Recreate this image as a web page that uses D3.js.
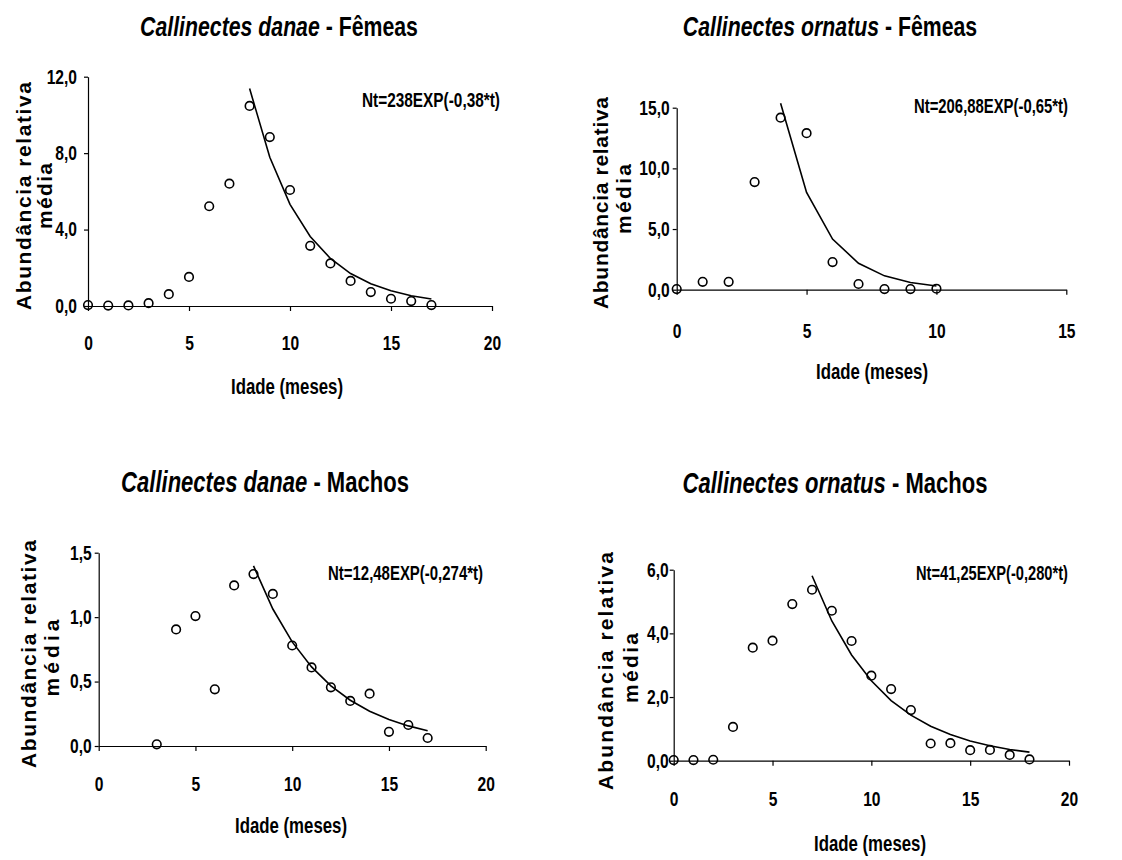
<!DOCTYPE html>
<html>
<head>
<meta charset="utf-8">
<script src="https://cdn.jsdelivr.net/npm/d3@7"></script>
<style>
  body { margin: 0; background: #fff; }
  text { font-family: "Liberation Sans", Arial, sans-serif; font-weight: bold; fill: #000; }
</style>
</head>
<body>
<script>
//tamanho da página
const width = 1122;
const height = 860;

// C. danae fêmeas
const danaeF_idade = [0,1,2,3,4,5,6,7,8,9,10,11,12,13,14,15,16,17];
const danaeF_abund = [0.05,0.02,0.03,0.15,0.62,1.52,5.22,6.4,10.47,8.84,6.07,3.15,2.23,1.31,0.73,0.38,0.26,0.05];
const danaeF_fitIdade = [8,9,10,11,12,13,14,15,16,17];
const danaeF_fit = [11.38,7.78,5.32,3.64,2.49,1.70,1.16,0.80,0.54,0.37];

// C. ornatus fêmeas
const ornatusF_idade = [0,1,2,3,4,5,6,7,8,9,10];
const ornatusF_abund = [0.05,0.65,0.65,8.87,14.18,12.9,2.28,0.47,0.05,0.05,0.08];
const ornatusF_fitIdade = [4,5,6,7,8,9,10];
const ornatusF_fit = [15.37,8.02,4.17,2.18,1.14,0.59,0.31];

// C. danae machos
const danaeM_idade = [3,4,5,6,7,8,9,10,11,12,13,14,15,16,17];
const danaeM_abund = [0.013,0.905,1.008,0.44,1.246,1.334,1.18,0.78,0.61,0.455,0.35,0.406,0.11,0.163,0.062];
const danaeM_fitIdade = [8,9,10,11,12,13,14,15,16,17];
const danaeM_fit = [1.398,1.063,0.808,0.614,0.467,0.355,0.270,0.205,0.156,0.119];

// C. ornatus machos
const ornatusM_idade = [0,1,2,3,4,5,6,7,8,9,10,11,12,13,14,15,16,17,18];
const ornatusM_abund = [0.02,0.02,0.03,1.06,3.55,3.77,4.92,5.37,4.71,3.76,2.67,2.25,1.59,0.54,0.55,0.33,0.34,0.18,0.04];
const ornatusM_fitIdade = [7,8,9,10,11,12,13,14,15,16,17,18];
const ornatusM_fit = [5.81,4.39,3.32,2.51,1.89,1.43,1.08,0.82,0.62,0.47,0.35,0.27];

// eixos
const xTicks20 = [0,5,10,15,20];
const xTicks15 = [0,5,10,15];
const danaeF_yTicks = [0,4,8,12];
const ornatusF_yTicks = [0,5,10,15];
const danaeM_yTicks = [0,0.5,1,1.5];
const ornatusM_yTicks = [0,2,4,6];

const species = ["Callinectes danae", "Callinectes ornatus", "Callinectes danae", "Callinectes ornatus"];
const sexo = [" - Fêmeas", " - Fêmeas", " - Machos", " - Machos"];
const equacoes = ["Nt=238EXP(-0,38*t)", "Nt=206,88EXP(-0,65*t)", "Nt=12,48EXP(-0,274*t)", "Nt=41,25EXP(-0,280*t)"];

const svg = d3.select("body").append("svg")
              .attr("width", width).attr("height", height);

const fmt = d => d3.format(".1f")(d).replace(".", ",");

// fonte estreita (tipo Arial Narrow): comprime os glifos
function squeeze(sel, k) {
    sel.each(function() {
        const len = this.getComputedTextLength();
        d3.select(this).attr("textLength", len * k).attr("lengthAdjust", "spacingAndGlyphs");
    });
}
function fit_to(sel, w) {
    sel.attr("textLength", w).attr("lengthAdjust", "spacingAndGlyphs");
}

function draw_panel(p) {
    const x = d3.scaleLinear().domain(p.xdom).range([p.left, p.right]);
    const y = d3.scaleLinear().domain(p.ydom).range([p.bottom, p.top]);
    const g = svg.append("g");

    // titulo: comprimido na horizontal com scale
    const t = g.append("g").attr("transform", `translate(${p.tx},${p.ty}) scale(0.76,1)`)
               .append("text").attr("text-anchor", "middle").attr("font-size", p.tsize)
               .style("white-space", "pre");
    t.append("tspan").attr("font-style", "italic").text(p.species);
    t.append("tspan").text(p.sexo);

    // eixo y
    const ay = g.append("g").attr("transform", `translate(${p.left},0)`)
                .call(d3.axisLeft(y).tickValues(p.yticks).tickFormat(fmt).tickSize(4).tickSizeOuter(0).tickPadding(p.ypad));
    ay.attr("font-family", null).attr("font-size", null);
    ay.selectAll("text").attr("font-size", 20).call(squeeze, 0.78);

    // eixo x
    const ax = g.append("g").attr("transform", `translate(0,${p.bottom})`)
                .call(d3.axisBottom(x).tickValues(p.xticks).tickFormat(d3.format("d")).tickSize(5).tickSizeOuter(0).tickPadding(p.xpad));
    ax.attr("font-family", null).attr("font-size", null);
    ax.selectAll("text").attr("font-size", 20).call(squeeze, 0.78);
    g.selectAll(".domain, .tick line").attr("stroke", "#000").attr("stroke-width", 1.2);

    // rotulos
    g.append("text").attr("x", p.xlx).attr("y", p.xly).attr("text-anchor", "middle")
     .attr("dominant-baseline", "middle").attr("font-size", 22).text("Idade (meses)")
     .call(fit_to, 112);
    g.append("text").attr("transform", `translate(${p.yl1x},${p.yl1y}) rotate(-90)`)
     .attr("text-anchor", "middle").attr("dominant-baseline", "middle").attr("font-size", 21)
     .attr("textLength", p.yl1len).attr("lengthAdjust", "spacing").text("Abundância relativa");
    g.append("text").attr("transform", `translate(${p.yl2x},${p.yl2y}) rotate(-90)`)
     .attr("text-anchor", "middle").attr("dominant-baseline", "middle").attr("font-size", 21)
     .attr("textLength", p.yl2len).attr("lengthAdjust", "spacing").text("média");

    // equacao
    g.append("text").attr("x", p.ex).attr("y", p.ey).attr("text-anchor", "end")
     .attr("dominant-baseline", "middle").attr("font-size", 20).text(p.eq)
     .call(fit_to, p.elen);

    // curva ajustada
    const line = d3.line().x(d => x(d[0])).y(d => y(d[1]));
    g.append("path").datum(d3.zip(p.fitx, p.fity)).attr("d", line)
     .attr("fill", "none").attr("stroke", "#000").attr("stroke-width", 1.6);

    // pontos
    g.selectAll("circle").data(d3.zip(p.px, p.py)).enter().append("circle")
     .attr("cx", d => x(d[0])).attr("cy", d => y(d[1])).attr("r", 4.3)
     .attr("fill", "none").attr("stroke", "#000").attr("stroke-width", 1.6);
}

draw_panel({species: species[0], sexo: sexo[0], eq: equacoes[0],
    xdom: [0,20], ydom: [0,12], xticks: xTicks20, yticks: danaeF_yTicks,
    px: danaeF_idade, py: danaeF_abund, fitx: danaeF_fitIdade, fity: danaeF_fit,
    left: 88, right: 492, top: 76.7, bottom: 306, ypad: 7, xpad: 25,
    tx: 279, ty: 36, tsize: 28, xlx: 287, xly: 388, yl1x: 25, yl1y: 196, yl1len: 228, yl2x: 46, yl2y: 196, yl2len: 66,
    ex: 500, ey: 102, elen: 138});

draw_panel({species: species[1], sexo: sexo[1], eq: equacoes[1],
    xdom: [0,15], ydom: [0,15], xticks: xTicks15, yticks: ornatusF_yTicks,
    px: ornatusF_idade, py: ornatusF_abund, fitx: ornatusF_fitIdade, fity: ornatusF_fit,
    left: 676.7, right: 1066.3, top: 107.7, bottom: 289.7, ypad: 3, xpad: 29,
    tx: 830, ty: 36, tsize: 28, xlx: 872, xly: 373, yl1x: 602, yl1y: 203, yl1len: 212, yl2x: 625, yl2y: 199, yl2len: 70,
    ex: 1068, ey: 108, elen: 154});

draw_panel({species: species[2], sexo: sexo[2], eq: equacoes[2],
    xdom: [0,20], ydom: [0,1.5], xticks: xTicks20, yticks: danaeM_yTicks,
    px: danaeM_idade, py: danaeM_abund, fitx: danaeM_fitIdade, fity: danaeM_fit,
    left: 98.7, right: 485.7, top: 552.7, bottom: 746, ypad: 3, xpad: 26,
    tx: 265, ty: 492, tsize: 29, xlx: 291, xly: 827, yl1x: 30, yl1y: 654, yl1len: 228, yl2x: 53, yl2y: 658, yl2len: 77,
    ex: 483, ey: 575, elen: 155});

draw_panel({species: species[3], sexo: sexo[3], eq: equacoes[3],
    xdom: [0,20], ydom: [0,6], xticks: xTicks20, yticks: ornatusM_yTicks,
    px: ornatusM_idade, py: ornatusM_abund, fitx: ornatusM_fitIdade, fity: ornatusM_fit,
    left: 673.7, right: 1069, top: 569.7, bottom: 760.7, ypad: 1, xpad: 26,
    tx: 835, ty: 493, tsize: 29, xlx: 870, xly: 845, yl1x: 607, yl1y: 671, yl1len: 238, yl2x: 632, yl2y: 668, yl2len: 70,
    ex: 1068, ey: 575, elen: 152});
</script>
</body>
</html>
